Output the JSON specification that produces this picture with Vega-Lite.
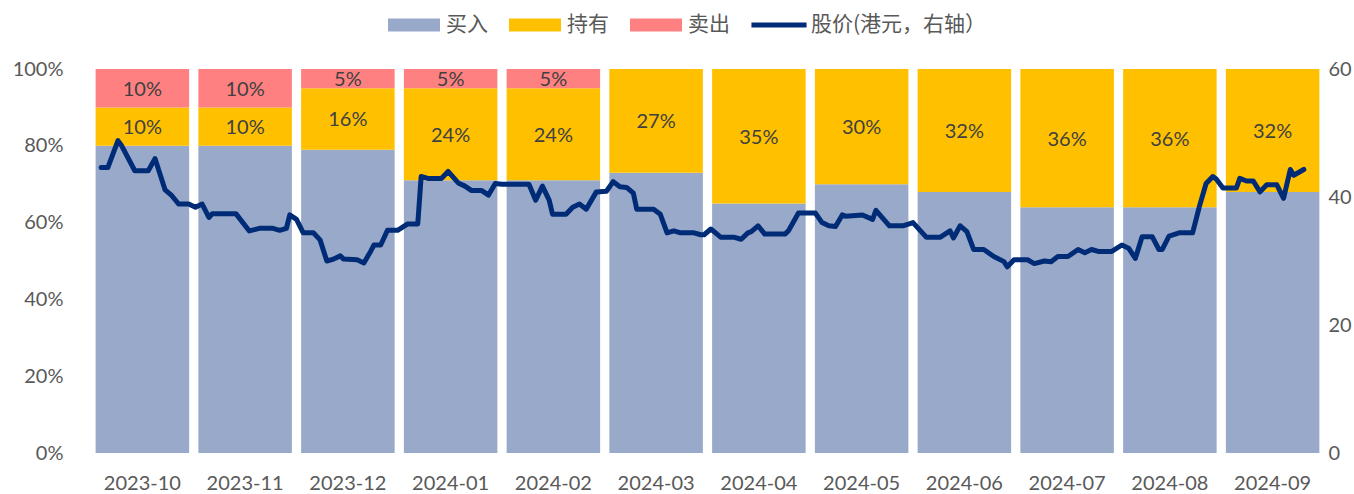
{
  "$schema": "https://vega.github.io/schema/vega-lite/v6.json",
  "width": 1233,
  "height": 384,
  "autosize": {"type": "none"},
  "padding": {"left": 91, "top": 69, "right": 30, "bottom": 41},
  "background": "white",
  "datasets": {
    "bars": [
      {"month": "2023-10", "type": "买入", "pct": 0.80, "ord": 1},
      {"month": "2023-10", "type": "持有", "pct": 0.10, "ord": 2},
      {"month": "2023-10", "type": "卖出", "pct": 0.10, "ord": 3},
      {"month": "2023-11", "type": "买入", "pct": 0.80, "ord": 1},
      {"month": "2023-11", "type": "持有", "pct": 0.10, "ord": 2},
      {"month": "2023-11", "type": "卖出", "pct": 0.10, "ord": 3},
      {"month": "2023-12", "type": "买入", "pct": 0.79, "ord": 1},
      {"month": "2023-12", "type": "持有", "pct": 0.16, "ord": 2},
      {"month": "2023-12", "type": "卖出", "pct": 0.05, "ord": 3},
      {"month": "2024-01", "type": "买入", "pct": 0.71, "ord": 1},
      {"month": "2024-01", "type": "持有", "pct": 0.24, "ord": 2},
      {"month": "2024-01", "type": "卖出", "pct": 0.05, "ord": 3},
      {"month": "2024-02", "type": "买入", "pct": 0.71, "ord": 1},
      {"month": "2024-02", "type": "持有", "pct": 0.24, "ord": 2},
      {"month": "2024-02", "type": "卖出", "pct": 0.05, "ord": 3},
      {"month": "2024-03", "type": "买入", "pct": 0.73, "ord": 1},
      {"month": "2024-03", "type": "持有", "pct": 0.27, "ord": 2},
      {"month": "2024-04", "type": "买入", "pct": 0.65, "ord": 1},
      {"month": "2024-04", "type": "持有", "pct": 0.35, "ord": 2},
      {"month": "2024-05", "type": "买入", "pct": 0.70, "ord": 1},
      {"month": "2024-05", "type": "持有", "pct": 0.30, "ord": 2},
      {"month": "2024-06", "type": "买入", "pct": 0.68, "ord": 1},
      {"month": "2024-06", "type": "持有", "pct": 0.32, "ord": 2},
      {"month": "2024-07", "type": "买入", "pct": 0.64, "ord": 1},
      {"month": "2024-07", "type": "持有", "pct": 0.36, "ord": 2},
      {"month": "2024-08", "type": "买入", "pct": 0.64, "ord": 1},
      {"month": "2024-08", "type": "持有", "pct": 0.36, "ord": 2},
      {"month": "2024-09", "type": "买入", "pct": 0.68, "ord": 1},
      {"month": "2024-09", "type": "持有", "pct": 0.32, "ord": 2}
    ],
    "price": [
      {"date": "2023-10-04", "price": 44.6},
      {"date": "2023-10-06", "price": 44.6},
      {"date": "2023-10-09", "price": 48.8},
      {"date": "2023-10-10", "price": 48.1},
      {"date": "2023-10-14", "price": 44.1},
      {"date": "2023-10-18", "price": 44.1},
      {"date": "2023-10-20", "price": 46.0},
      {"date": "2023-10-23", "price": 41.1},
      {"date": "2023-10-25", "price": 40.2},
      {"date": "2023-10-27", "price": 38.9},
      {"date": "2023-10-30", "price": 38.9},
      {"date": "2023-11-01", "price": 38.4},
      {"date": "2023-11-03", "price": 38.9},
      {"date": "2023-11-05", "price": 36.8},
      {"date": "2023-11-06", "price": 37.4},
      {"date": "2023-11-13", "price": 37.4},
      {"date": "2023-11-17", "price": 34.7},
      {"date": "2023-11-20", "price": 35.1},
      {"date": "2023-11-24", "price": 35.1},
      {"date": "2023-11-26", "price": 34.8},
      {"date": "2023-11-28", "price": 35.1},
      {"date": "2023-11-29", "price": 37.2},
      {"date": "2023-12-01", "price": 36.5},
      {"date": "2023-12-03", "price": 34.4},
      {"date": "2023-12-06", "price": 34.4},
      {"date": "2023-12-08", "price": 33.3},
      {"date": "2023-12-10", "price": 30.0},
      {"date": "2023-12-12", "price": 30.3},
      {"date": "2023-12-14", "price": 30.8},
      {"date": "2023-12-15", "price": 30.3},
      {"date": "2023-12-19", "price": 30.2},
      {"date": "2023-12-21", "price": 29.7},
      {"date": "2023-12-23", "price": 31.5},
      {"date": "2023-12-24", "price": 32.5},
      {"date": "2023-12-26", "price": 32.5},
      {"date": "2023-12-28", "price": 34.8},
      {"date": "2023-12-31", "price": 34.8},
      {"date": "2024-01-03", "price": 35.8},
      {"date": "2024-01-06", "price": 35.8},
      {"date": "2024-01-07", "price": 43.2},
      {"date": "2024-01-09", "price": 42.9},
      {"date": "2024-01-13", "price": 42.9},
      {"date": "2024-01-15", "price": 44.0},
      {"date": "2024-01-18", "price": 42.2},
      {"date": "2024-01-20", "price": 41.7},
      {"date": "2024-01-22", "price": 41.0},
      {"date": "2024-01-25", "price": 41.0},
      {"date": "2024-01-27", "price": 40.3},
      {"date": "2024-01-29", "price": 42.1},
      {"date": "2024-01-31", "price": 42.0},
      {"date": "2024-02-08", "price": 42.0},
      {"date": "2024-02-10", "price": 39.5},
      {"date": "2024-02-12", "price": 41.7},
      {"date": "2024-02-14", "price": 39.5},
      {"date": "2024-02-15", "price": 37.3},
      {"date": "2024-02-19", "price": 37.3},
      {"date": "2024-02-21", "price": 38.4},
      {"date": "2024-02-23", "price": 38.9},
      {"date": "2024-02-25", "price": 38.1},
      {"date": "2024-02-28", "price": 40.8},
      {"date": "2024-03-02", "price": 40.9},
      {"date": "2024-03-04", "price": 42.4},
      {"date": "2024-03-06", "price": 41.6},
      {"date": "2024-03-08", "price": 41.5},
      {"date": "2024-03-10", "price": 40.6},
      {"date": "2024-03-11", "price": 38.1},
      {"date": "2024-03-16", "price": 38.1},
      {"date": "2024-03-18", "price": 37.3},
      {"date": "2024-03-20", "price": 34.4},
      {"date": "2024-03-22", "price": 34.7},
      {"date": "2024-03-24", "price": 34.4},
      {"date": "2024-03-28", "price": 34.4},
      {"date": "2024-03-30", "price": 34.1},
      {"date": "2024-03-31", "price": 34.1},
      {"date": "2024-04-02", "price": 35.0},
      {"date": "2024-04-05", "price": 33.7},
      {"date": "2024-04-09", "price": 33.7},
      {"date": "2024-04-11", "price": 33.4},
      {"date": "2024-04-13", "price": 34.4},
      {"date": "2024-04-14", "price": 34.6},
      {"date": "2024-04-16", "price": 35.5},
      {"date": "2024-04-18", "price": 34.2},
      {"date": "2024-04-24", "price": 34.2},
      {"date": "2024-04-25", "price": 34.7},
      {"date": "2024-04-28", "price": 37.5},
      {"date": "2024-05-03", "price": 37.5},
      {"date": "2024-05-05", "price": 36.0},
      {"date": "2024-05-07", "price": 35.5},
      {"date": "2024-05-09", "price": 35.4},
      {"date": "2024-05-11", "price": 37.2},
      {"date": "2024-05-12", "price": 37.0},
      {"date": "2024-05-17", "price": 37.2},
      {"date": "2024-05-20", "price": 36.5},
      {"date": "2024-05-21", "price": 37.9},
      {"date": "2024-05-25", "price": 35.5},
      {"date": "2024-05-29", "price": 35.5},
      {"date": "2024-06-01", "price": 36.0},
      {"date": "2024-06-05", "price": 33.7},
      {"date": "2024-06-09", "price": 33.7},
      {"date": "2024-06-12", "price": 34.7},
      {"date": "2024-06-13", "price": 33.6},
      {"date": "2024-06-15", "price": 35.5},
      {"date": "2024-06-17", "price": 34.6},
      {"date": "2024-06-19", "price": 31.8},
      {"date": "2024-06-22", "price": 31.8},
      {"date": "2024-06-25", "price": 30.7},
      {"date": "2024-06-28", "price": 29.9},
      {"date": "2024-06-29", "price": 29.1},
      {"date": "2024-07-01", "price": 30.2},
      {"date": "2024-07-05", "price": 30.2},
      {"date": "2024-07-07", "price": 29.6},
      {"date": "2024-07-10", "price": 30.0},
      {"date": "2024-07-12", "price": 29.9},
      {"date": "2024-07-14", "price": 30.7},
      {"date": "2024-07-17", "price": 30.7},
      {"date": "2024-07-20", "price": 31.8},
      {"date": "2024-07-22", "price": 31.3},
      {"date": "2024-07-24", "price": 31.8},
      {"date": "2024-07-26", "price": 31.5},
      {"date": "2024-07-30", "price": 31.5},
      {"date": "2024-08-02", "price": 32.5},
      {"date": "2024-08-04", "price": 32.0},
      {"date": "2024-08-06", "price": 30.4},
      {"date": "2024-08-08", "price": 33.8},
      {"date": "2024-08-11", "price": 33.8},
      {"date": "2024-08-13", "price": 31.8},
      {"date": "2024-08-14", "price": 31.8},
      {"date": "2024-08-16", "price": 33.9},
      {"date": "2024-08-19", "price": 34.4},
      {"date": "2024-08-23", "price": 34.4},
      {"date": "2024-08-25", "price": 38.5},
      {"date": "2024-08-27", "price": 42.1},
      {"date": "2024-08-29", "price": 43.2},
      {"date": "2024-08-30", "price": 42.8},
      {"date": "2024-09-01", "price": 41.4},
      {"date": "2024-09-05", "price": 41.4},
      {"date": "2024-09-06", "price": 42.9},
      {"date": "2024-09-08", "price": 42.5},
      {"date": "2024-09-10", "price": 42.5},
      {"date": "2024-09-12", "price": 40.8},
      {"date": "2024-09-14", "price": 41.9},
      {"date": "2024-09-17", "price": 41.9},
      {"date": "2024-09-19", "price": 39.8},
      {"date": "2024-09-21", "price": 44.3},
      {"date": "2024-09-22", "price": 43.4},
      {"date": "2024-09-25", "price": 44.3}
    ]
  },
  "layer": [
    {
      "data": {"name": "bars"},
      "transform": [
        {"stack": "pct", "groupby": ["month"], "sort": [{"field": "ord", "order": "ascending"}], "as": ["y0", "y1"]},
        {"calculate": "(datum.y0 + datum.y1) / 2", "as": "ymid"}
      ],
      "encoding": {
        "x": {
          "field": "month",
          "type": "nominal",
          "sort": null,
          "title": null,
          "scale": {"paddingInner": 0.09, "paddingOuter": 0.045},
          "axis": {"labelAngle": 0, "labelPadding": 20, "labelFontSize": 20}
        }
      },
      "layer": [
        {
          "mark": {"type": "bar"},
          "encoding": {
            "y": {
              "field": "y0",
              "type": "quantitative",
              "title": null,
              "scale": {"domain": [0, 1]},
              "axis": {"format": ".0%", "values": [0, 0.2, 0.4, 0.6, 0.8, 1], "labelPadding": 28}
            },
            "y2": {"field": "y1"},
            "color": {
              "field": "type",
              "type": "nominal",
              "scale": {
                "domain": ["买入", "持有", "卖出", "股价(港元，右轴）"],
                "range": ["#98A9C9", "#FFC000", "#FF8080", "#002C77"]
              },
              "legend": {
                "title": null,
                "orient": "none",
                "legendX": 297,
                "legendY": -70,
                "direction": "horizontal",
                "padding": 0,
                "symbolSize": 2704,
                "symbolStrokeWidth": 0,
                "symbolOpacity": 1,
                "labelFont": "Noto Sans CJK SC",
                "labelFontSize": 21,
                "labelColor": "#595959",
                "labelOffset": 6,
                "labelLimit": 0,
                "columnPadding": 21,
                "encode": {
                  "symbols": {
                    "update": {
                      "shape": {"signal": "datum.value === '股价(港元，右轴）' ? 'M-1.06,-0.1H1.06V0.1H-1.06Z' : 'M-1,-0.25H1V0.25H-1Z'"},
                      "strokeWidth": {"value": 0}
                    }
                  }
                }
              }
            }
          }
        },
        {
          "transform": [{"filter": "datum.ord > 1"}],
          "mark": {"type": "text", "font": "Lato", "fontSize": 20, "color": "#404040", "baseline": "middle", "align": "center", "dy": 1.5},
          "encoding": {
            "y": {"field": "ymid", "type": "quantitative"},
            "text": {"field": "pct", "type": "quantitative", "format": ".0%"}
          }
        }
      ]
    },
    {
      "data": {"name": "price"},
      "mark": {"type": "line", "color": "#002C77", "strokeWidth": 5, "strokeJoin": "round", "strokeCap": "round"},
      "encoding": {
        "x": {
          "field": "date",
          "type": "temporal",
          "scale": {
            "type": "utc",
            "domain": [
              {"year": 2023, "month": 10, "date": 1, "utc": true},
              {"year": 2024, "month": 10, "date": 1, "utc": true}
            ]
          },
          "axis": null
        },
        "y": {
          "field": "price",
          "type": "quantitative",
          "title": null,
          "scale": {"domain": [0, 60]},
          "axis": {"orient": "right", "values": [0, 20, 40, 60], "labelPadding": 4}
        }
      }
    }
  ],
  "resolve": {"scale": {"x": "independent", "y": "independent"}},
  "config": {
    "view": {"stroke": null},
    "axis": {
      "grid": false,
      "domain": false,
      "ticks": false,
      "labelFont": "Lato",
      "labelFontSize": 20,
      "labelColor": "#595959"
    }
  }
}
